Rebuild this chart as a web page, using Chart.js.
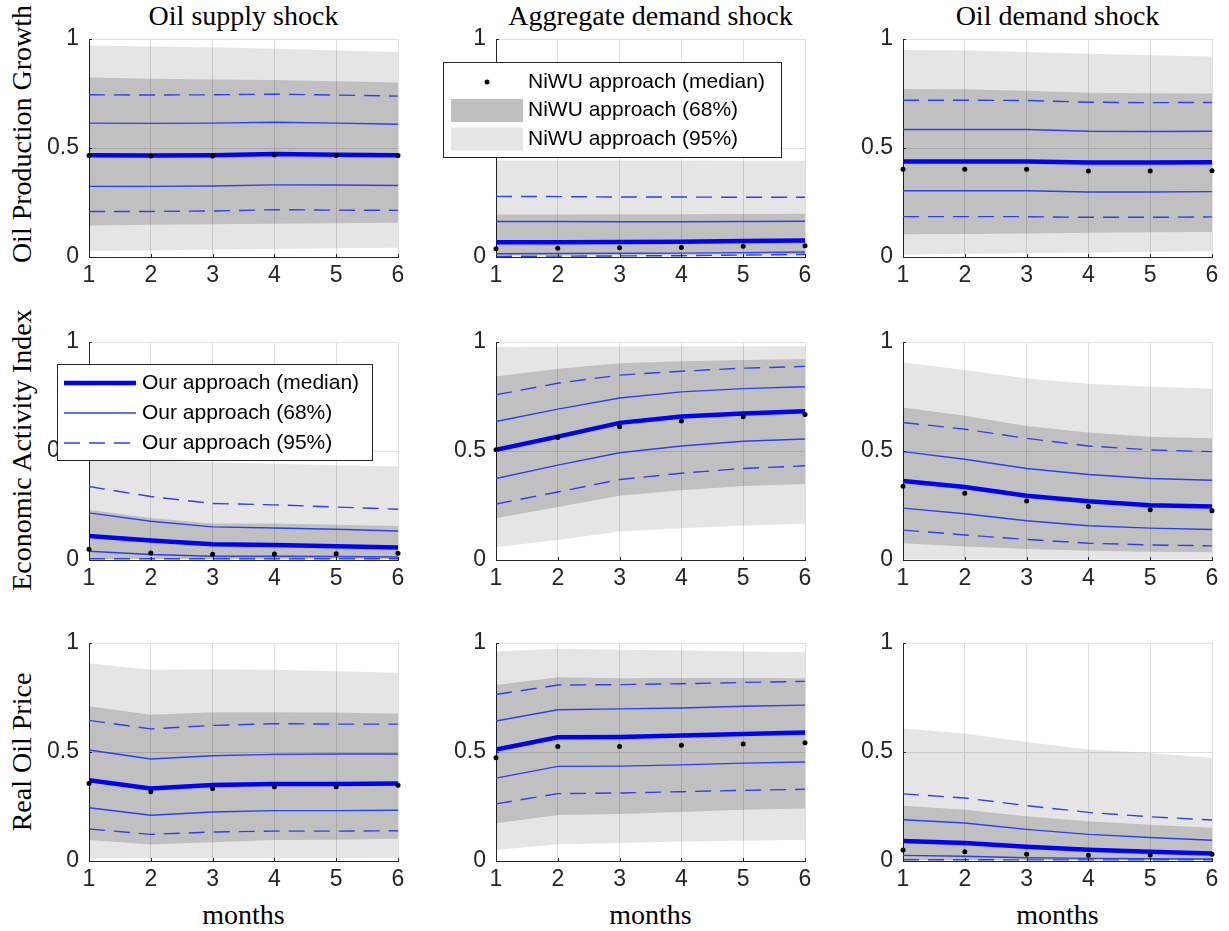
<!DOCTYPE html>
<html>
<head>
<meta charset="utf-8">
<script src="https://cdn.jsdelivr.net/npm/chart.js@4.4.1/dist/chart.umd.min.js"></script>
<style>
  body { margin: 0; background: #fff; width: 1229px; height: 931px; position: relative; overflow: hidden; }
  canvas { position: absolute; }
  .ttl { position: absolute; width: 400px; height: 28px; font-family: 'Liberation Serif', serif; font-size: 28px; line-height: 28px; color: #000; text-align: center; white-space: nowrap; }
  .rot { transform: translate(-50%, -50%) rotate(-90deg); }
</style>
</head>
<body>
<div id="titles"></div>
<script>
// axes
const months = [1, 2, 3, 4, 5, 6];
const yTicks = [0, 0.5, 1];
const shockTitles = ['Oil supply shock', 'Aggregate demand shock', 'Oil demand shock'];
const varLabels = ['Oil Production Growth', 'Economic Activity Index', 'Real Oil Price'];
const xTitle = 'months';

// Oil supply shock -> Oil Production Growth
const supProd_n95hi = [0.970, 0.966, 0.962, 0.955, 0.947, 0.940];
const supProd_n95lo = [0.027, 0.030, 0.034, 0.037, 0.040, 0.043];
const supProd_n68hi = [0.823, 0.818, 0.814, 0.812, 0.806, 0.800];
const supProd_n68lo = [0.145, 0.148, 0.150, 0.152, 0.155, 0.157];
const supProd_o95hi = [0.744, 0.743, 0.744, 0.747, 0.743, 0.738];
const supProd_o95lo = [0.209, 0.209, 0.211, 0.217, 0.215, 0.214];
const supProd_o68hi = [0.614, 0.613, 0.614, 0.618, 0.614, 0.609];
const supProd_o68lo = [0.324, 0.324, 0.326, 0.331, 0.330, 0.328];
const supProd_oMed  = [0.467, 0.466, 0.467, 0.473, 0.469, 0.467];
const supProd_nMed  = [0.466, 0.463, 0.463, 0.468, 0.466, 0.466];

// Aggregate demand shock -> Oil Production Growth
const aggProd_n95hi = [0.443, 0.443, 0.443, 0.443, 0.442, 0.442];
const aggProd_n95lo = [0.002, 0.002, 0.002, 0.002, 0.002, 0.002];
const aggProd_n68hi = [0.195, 0.195, 0.196, 0.196, 0.197, 0.198];
const aggProd_n68lo = [0.008, 0.008, 0.009, 0.010, 0.011, 0.012];
const aggProd_o95hi = [0.278, 0.277, 0.275, 0.275, 0.274, 0.274];
const aggProd_o95lo = [0.003, 0.004, 0.005, 0.006, 0.009, 0.012];
const aggProd_o68hi = [0.163, 0.163, 0.162, 0.162, 0.163, 0.164];
const aggProd_o68lo = [0.015, 0.016, 0.017, 0.018, 0.020, 0.023];
const aggProd_oMed  = [0.068, 0.068, 0.069, 0.070, 0.073, 0.076];
const aggProd_nMed  = [0.038, 0.040, 0.043, 0.044, 0.049, 0.052];

// Oil demand shock -> Oil Production Growth
const demProd_n95hi = [0.950, 0.947, 0.940, 0.932, 0.925, 0.920];
const demProd_n95lo = [0.012, 0.015, 0.018, 0.021, 0.024, 0.027];
const demProd_n68hi = [0.771, 0.769, 0.763, 0.754, 0.751, 0.750];
const demProd_n68lo = [0.104, 0.106, 0.108, 0.111, 0.113, 0.115];
const demProd_o95hi = [0.719, 0.719, 0.718, 0.710, 0.708, 0.709];
const demProd_o95lo = [0.185, 0.185, 0.185, 0.182, 0.182, 0.184];
const demProd_o68hi = [0.585, 0.585, 0.585, 0.577, 0.576, 0.577];
const demProd_o68lo = [0.304, 0.304, 0.304, 0.298, 0.298, 0.300];
const demProd_oMed  = [0.438, 0.438, 0.438, 0.434, 0.434, 0.435];
const demProd_nMed  = [0.402, 0.402, 0.402, 0.394, 0.394, 0.396];

// Oil supply shock -> Economic Activity Index
const supAct_n95hi = [0.460, 0.455, 0.449, 0.441, 0.435, 0.429];
const supAct_n95lo = [0.002, 0.002, 0.002, 0.002, 0.002, 0.002];
const supAct_n68hi = [0.231, 0.193, 0.168, 0.167, 0.162, 0.156];
const supAct_n68lo = [0.005, 0.005, 0.005, 0.005, 0.005, 0.005];
const supAct_o95hi = [0.337, 0.291, 0.259, 0.253, 0.243, 0.233];
const supAct_o95lo = [0.006, 0.006, 0.006, 0.006, 0.006, 0.006];
const supAct_o68hi = [0.216, 0.178, 0.152, 0.147, 0.141, 0.133];
const supAct_o68lo = [0.040, 0.025, 0.017, 0.017, 0.016, 0.014];
const supAct_oMed  = [0.110, 0.089, 0.072, 0.069, 0.063, 0.057];
const supAct_nMed  = [0.049, 0.032, 0.026, 0.028, 0.029, 0.031];

// Aggregate demand shock -> Economic Activity Index
const aggAct_n95hi = [0.977, 0.978, 0.978, 0.979, 0.979, 0.980];
const aggAct_n95lo = [0.058, 0.092, 0.131, 0.146, 0.158, 0.166];
const aggAct_n68hi = [0.842, 0.877, 0.903, 0.912, 0.918, 0.922];
const aggAct_n68lo = [0.192, 0.243, 0.295, 0.320, 0.340, 0.349];
const aggAct_o95hi = [0.758, 0.811, 0.848, 0.866, 0.880, 0.888];
const aggAct_o95lo = [0.257, 0.312, 0.369, 0.398, 0.420, 0.432];
const aggAct_o68hi = [0.635, 0.692, 0.743, 0.771, 0.786, 0.795];
const aggAct_o68lo = [0.374, 0.435, 0.492, 0.523, 0.545, 0.555];
const aggAct_oMed  = [0.506, 0.566, 0.629, 0.658, 0.672, 0.682];
const aggAct_nMed  = [0.506, 0.562, 0.611, 0.638, 0.657, 0.668];

// Oil demand shock -> Economic Activity Index
const demAct_n95hi = [0.906, 0.872, 0.832, 0.808, 0.795, 0.786];
const demAct_n95lo = [0.002, 0.002, 0.002, 0.002, 0.002, 0.002];
const demAct_n68hi = [0.700, 0.662, 0.615, 0.585, 0.565, 0.558];
const demAct_n68lo = [0.077, 0.062, 0.051, 0.043, 0.038, 0.035];
const demAct_o95hi = [0.631, 0.600, 0.558, 0.523, 0.505, 0.497];
const demAct_o95lo = [0.137, 0.115, 0.094, 0.077, 0.069, 0.065];
const demAct_o68hi = [0.497, 0.462, 0.420, 0.392, 0.374, 0.366];
const demAct_o68lo = [0.238, 0.212, 0.180, 0.157, 0.146, 0.140];
const demAct_oMed  = [0.362, 0.335, 0.295, 0.269, 0.251, 0.245];
const demAct_nMed  = [0.338, 0.306, 0.271, 0.245, 0.231, 0.226];

// Oil supply shock -> Real Oil Price
const supPrice_n95hi = [0.907, 0.877, 0.880, 0.877, 0.870, 0.864];
const supPrice_n95lo = [0.012, 0.013, 0.013, 0.014, 0.014, 0.015];
const supPrice_n68hi = [0.710, 0.671, 0.682, 0.682, 0.681, 0.676];
const supPrice_n68lo = [0.096, 0.076, 0.086, 0.096, 0.097, 0.102];
const supPrice_o95hi = [0.645, 0.606, 0.622, 0.630, 0.628, 0.628];
const supPrice_o95lo = [0.147, 0.122, 0.133, 0.137, 0.137, 0.139];
const supPrice_o68hi = [0.509, 0.468, 0.483, 0.489, 0.491, 0.491];
const supPrice_o68lo = [0.244, 0.210, 0.225, 0.231, 0.231, 0.233];
const supPrice_oMed  = [0.370, 0.333, 0.349, 0.353, 0.353, 0.355];
const supPrice_nMed  = [0.356, 0.318, 0.333, 0.341, 0.341, 0.347];

// Aggregate demand shock -> Real Oil Price
const aggPrice_n95hi = [0.961, 0.974, 0.969, 0.966, 0.961, 0.957];
const aggPrice_n95lo = [0.051, 0.077, 0.082, 0.090, 0.093, 0.097];
const aggPrice_n68hi = [0.807, 0.843, 0.838, 0.840, 0.840, 0.838];
const aggPrice_n68lo = [0.173, 0.211, 0.216, 0.225, 0.235, 0.241];
const aggPrice_o95hi = [0.764, 0.807, 0.809, 0.813, 0.819, 0.824];
const aggPrice_o95lo = [0.262, 0.309, 0.312, 0.318, 0.324, 0.329];
const aggPrice_o68hi = [0.642, 0.694, 0.698, 0.702, 0.710, 0.715];
const aggPrice_o68lo = [0.380, 0.434, 0.435, 0.441, 0.449, 0.454];
const aggPrice_oMed  = [0.511, 0.568, 0.569, 0.576, 0.583, 0.590];
const aggPrice_nMed  = [0.474, 0.525, 0.525, 0.531, 0.537, 0.543];

// Oil demand shock -> Real Oil Price
const demPrice_n95hi = [0.608, 0.585, 0.546, 0.512, 0.495, 0.472];
const demPrice_n95lo = [0.002, 0.002, 0.002, 0.002, 0.002, 0.002];
const demPrice_n68hi = [0.254, 0.235, 0.205, 0.182, 0.166, 0.152];
const demPrice_n68lo = [0.005, 0.005, 0.005, 0.005, 0.005, 0.005];
const demPrice_o95hi = [0.308, 0.289, 0.254, 0.223, 0.203, 0.188];
const demPrice_o95lo = [0.006, 0.006, 0.005, 0.005, 0.005, 0.005];
const demPrice_o68hi = [0.189, 0.174, 0.145, 0.122, 0.108, 0.095];
const demPrice_o68lo = [0.026, 0.022, 0.015, 0.012, 0.010, 0.009];
const demPrice_oMed  = [0.092, 0.083, 0.065, 0.052, 0.042, 0.034];
const demPrice_nMed  = [0.051, 0.043, 0.031, 0.026, 0.028, 0.031];

// layout of the 3x3 grid (plot areas, px)
const plotLeft = [89, 496, 903];
const plotTop = [39, 342, 643];
const plotW = 309, plotH = 218;
const axW = 70, axH = 40, padT = 30, padR = 14;

const LIGHT = 'rgba(0,0,0,0.10)';
const DARK = 'rgba(0,0,0,0.166)';
const BLUE_T = '#2b40f0';
const INK = '#262626';

Chart.defaults.font.family = "'Liberation Sans', Arial, sans-serif";
Chart.defaults.color = INK;

// boxed legend drawn inside the plot, MATLAB style
const boxLegend = {
  id: 'boxLegend',
  afterDraw(chart, args, o) {
    if (!o.items) return;
    const ctx = chart.ctx, a = chart.chartArea;
    const x = Math.round(a.left + o.dx), y = Math.round(a.top + o.dy);
    ctx.save();
    ctx.fillStyle = '#fff';
    ctx.fillRect(x, y, o.w, o.h);
    ctx.strokeStyle = INK;
    ctx.lineWidth = 1;
    ctx.strokeRect(x + 0.5, y + 0.5, o.w, o.h);
    ctx.font = "21px 'Liberation Sans', Arial, sans-serif";
    ctx.textBaseline = 'middle';
    o.items.forEach((it, i) => {
      const ds = chart.data.datasets[it.ds];
      const cy = y + o.row0 + i * o.rowH;
      if (it.kind === 'dot') {
        ctx.fillStyle = '#000';
        ctx.beginPath();
        ctx.arc(x + 44, cy, 2.5, 0, Math.PI * 2);
        ctx.fill();
      } else if (it.kind === 'patch') {
        ctx.fillStyle = it.color;
        ctx.fillRect(x + 8, cy - 11.5, 72, 23);
      } else {
        ctx.strokeStyle = ds.borderColor;
        ctx.lineWidth = ds.borderWidth;
        ctx.setLineDash(ds.borderDash || []);
        ctx.beginPath();
        ctx.moveTo(x + 7, Math.round(cy));
        ctx.lineTo(x + 79, Math.round(cy));
        ctx.stroke();
        ctx.setLineDash([]);
      }
      ctx.fillStyle = '#000';
      ctx.fillText(ds.label, x + 85, cy);
    });
    ctx.restore();
  }
};

// short inward tick marks along the two axes
const inTicks = {
  id: 'inTicks',
  afterDraw(chart) {
    const ctx = chart.ctx, a = chart.chartArea, sx = chart.scales.x, sy = chart.scales.y;
    ctx.save();
    ctx.strokeStyle = INK;
    ctx.lineWidth = 1;
    ctx.beginPath();
    months.forEach(m => { const px = Math.round(sx.getPixelForValue(m)) + 0.5; ctx.moveTo(px, a.bottom); ctx.lineTo(px, a.bottom - 3); });
    yTicks.forEach(v => { const py = Math.round(sy.getPixelForValue(v)) + 0.5; ctx.moveTo(a.left, py); ctx.lineTo(a.left + 3, py); });
    ctx.stroke();
    ctx.restore();
  }
};

const pts = arr => months.map((m, i) => ({ x: m, y: arr[i] }));

function panel(row, col, n95hi, n95lo, n68hi, n68lo, o95hi, o95lo, o68hi, o68lo, oMed, nMed, legend) {
  const cv = document.createElement('canvas');
  cv.width = axW + plotW + padR;
  cv.height = padT + plotH + axH;
  cv.style.left = (plotLeft[col] - axW) + 'px';
  cv.style.top = (plotTop[row] - padT) + 'px';
  document.body.appendChild(cv);

  const band = { borderWidth: 0, borderColor: 'transparent', pointRadius: 0 };
  const thin = { borderColor: BLUE_T, borderWidth: 1.4, pointRadius: 0 };
  new Chart(cv, {
    type: 'line',
    data: {
      datasets: [
        { ...band, label: 'NiWU approach (95%)', data: pts(n95hi), fill: 1, backgroundColor: LIGHT, order: 10 },
        { ...band, label: '', data: pts(n95lo), fill: false, order: 10 },
        { ...band, label: 'NiWU approach (68%)', data: pts(n68hi), fill: 3, backgroundColor: DARK, order: 9 },
        { ...band, label: '', data: pts(n68lo), fill: false, order: 9 },
        { ...thin, label: 'Our approach (95%)', data: pts(o95hi), borderDash: [16, 9], order: 5 },
        { ...thin, label: '', data: pts(o95lo), borderDash: [16, 9], order: 5 },
        { ...thin, label: 'Our approach (68%)', data: pts(o68hi), order: 4 },
        { ...thin, label: '', data: pts(o68lo), order: 4 },
        { label: 'Our approach (median)', data: pts(oMed), borderColor: '#0000ff', borderWidth: 4.5, pointRadius: 0, order: 2 },
        { label: 'NiWU approach (median)', data: pts(nMed), showLine: false, pointRadius: 2.5, pointBorderWidth: 0,
          pointBackgroundColor: '#000', backgroundColor: '#000', order: 1, clip: false }
      ]
    },
    options: {
      responsive: false,
      animation: false,
      events: [],
      layout: { padding: { top: padT, right: padR, left: 0, bottom: 0 } },
      plugins: {
        legend: { display: false },
        tooltip: { enabled: false },
        boxLegend: legend || {}
      },
      scales: {
        x: {
          type: 'linear', min: 1, max: 6,
          afterBuildTicks: s => { s.ticks = months.map(v => ({ value: v })); },
          afterFit: s => { s.height = axH; },
          ticks: { font: { size: 23 }, padding: 5, color: INK, callback: v => String(v) },
          grid: { color: '#dfdfdf', drawTicks: false },
          border: { color: INK, width: 1 }
        },
        y: {
          type: 'linear', min: 0, max: 1,
          afterBuildTicks: s => { s.ticks = yTicks.map(v => ({ value: v })); },
          afterFit: s => { s.width = axW; },
          ticks: { font: { size: 23 }, padding: 10, color: INK, callback: v => String(v) },
          grid: { color: '#dfdfdf', drawTicks: false },
          border: { color: INK, width: 1 }
        }
      }
    },
    plugins: [inTicks, boxLegend]
  });
}

const niwuLegend = {
  dx: -53, dy: 23, w: 338, h: 95, row0: 20, rowH: 28.5,
  items: [
    { ds: 9, kind: 'dot' },
    { ds: 2, kind: 'patch', color: '#bfbfbf' },
    { ds: 0, kind: 'patch', color: '#e5e5e5' }
  ]
};
const ourLegend = {
  dx: -32, dy: 22, w: 315, h: 96, row0: 19, rowH: 30,
  items: [
    { ds: 8, kind: 'line' },
    { ds: 6, kind: 'line' },
    { ds: 4, kind: 'line' }
  ]
};

panel(0, 0, supProd_n95hi, supProd_n95lo, supProd_n68hi, supProd_n68lo, supProd_o95hi, supProd_o95lo, supProd_o68hi, supProd_o68lo, supProd_oMed, supProd_nMed);
panel(0, 1, aggProd_n95hi, aggProd_n95lo, aggProd_n68hi, aggProd_n68lo, aggProd_o95hi, aggProd_o95lo, aggProd_o68hi, aggProd_o68lo, aggProd_oMed, aggProd_nMed, niwuLegend);
panel(0, 2, demProd_n95hi, demProd_n95lo, demProd_n68hi, demProd_n68lo, demProd_o95hi, demProd_o95lo, demProd_o68hi, demProd_o68lo, demProd_oMed, demProd_nMed);
panel(1, 0, supAct_n95hi, supAct_n95lo, supAct_n68hi, supAct_n68lo, supAct_o95hi, supAct_o95lo, supAct_o68hi, supAct_o68lo, supAct_oMed, supAct_nMed, ourLegend);
panel(1, 1, aggAct_n95hi, aggAct_n95lo, aggAct_n68hi, aggAct_n68lo, aggAct_o95hi, aggAct_o95lo, aggAct_o68hi, aggAct_o68lo, aggAct_oMed, aggAct_nMed);
panel(1, 2, demAct_n95hi, demAct_n95lo, demAct_n68hi, demAct_n68lo, demAct_o95hi, demAct_o95lo, demAct_o68hi, demAct_o68lo, demAct_oMed, demAct_nMed);
panel(2, 0, supPrice_n95hi, supPrice_n95lo, supPrice_n68hi, supPrice_n68lo, supPrice_o95hi, supPrice_o95lo, supPrice_o68hi, supPrice_o68lo, supPrice_oMed, supPrice_nMed);
panel(2, 1, aggPrice_n95hi, aggPrice_n95lo, aggPrice_n68hi, aggPrice_n68lo, aggPrice_o95hi, aggPrice_o95lo, aggPrice_o68hi, aggPrice_o68lo, aggPrice_oMed, aggPrice_nMed);
panel(2, 2, demPrice_n95hi, demPrice_n95lo, demPrice_n68hi, demPrice_n68lo, demPrice_o95hi, demPrice_o95lo, demPrice_o68hi, demPrice_o68lo, demPrice_oMed, demPrice_nMed);

// column titles, row labels, x label (plain text)
const holder = document.getElementById('titles');
function addText(txt, cx, top, rotated) {
  const d = document.createElement('div');
  d.className = 'ttl' + (rotated ? ' rot' : '');
  d.textContent = txt;
  if (rotated) { d.style.left = cx + 'px'; d.style.top = top + 'px'; }
  else { d.style.left = (cx - 200) + 'px'; d.style.top = top + 'px'; }
  holder.appendChild(d);
}
shockTitles.forEach((t, c) => addText(t, plotLeft[c] + plotW / 2, 1.5));
shockTitles.forEach((t, c) => addText(xTitle, plotLeft[c] + plotW / 2, 900.5));
const labelCenterY = [134, 450, 752];
varLabels.forEach((t, r) => addText(t, 21.5, labelCenterY[r], true));
</script>
</body>
</html>
